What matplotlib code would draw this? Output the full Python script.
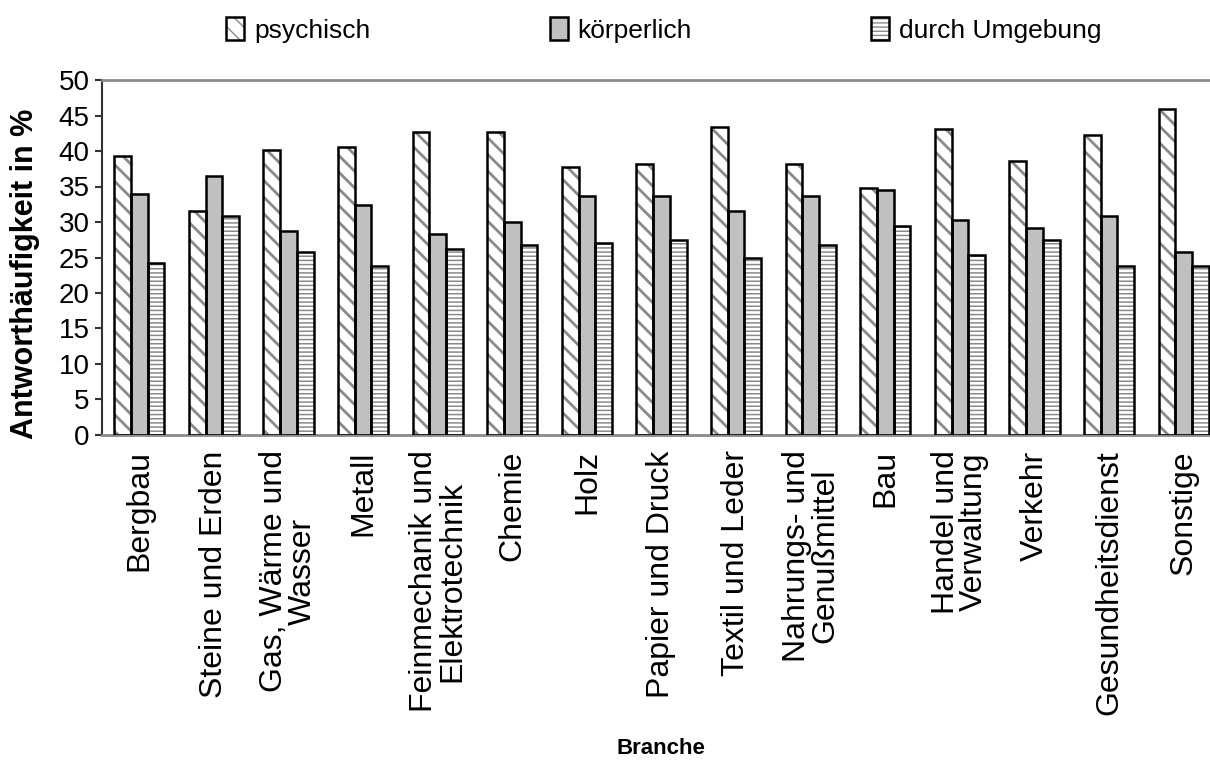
import matplotlib
matplotlib.use("Agg")
import matplotlib.pyplot as plt
import numpy as np
from matplotlib.legend_handler import HandlerTuple

categories = ["Bergbau", "Steine und Erden", "Gas, Wärme und\nWasser", "Metall",
              "Feinmechanik und\nElektrotechnik", "Chemie", "Holz", "Papier und Druck",
              "Textil und Leder", "Nahrungs- und\nGenußmittel", "Bau", "Handel und\nVerwaltung",
              "Verkehr", "Gesundheitsdienst", "Sonstige"]
series_names = ["psychisch", "körperlich", "durch Umgebung"]
psychisch = [39.3, 31.5, 40.2, 40.6, 42.7, 42.7, 37.7, 38.1, 43.4, 38.1, 34.8, 43.1, 38.6, 42.2, 45.9]
koerperlich = [34.0, 36.5, 28.7, 32.4, 28.3, 30.0, 33.6, 33.6, 31.5, 33.6, 34.5, 30.3, 29.1, 30.8, 25.8]
umgebung = [24.2, 30.8, 25.8, 23.8, 26.2, 26.7, 27.0, 27.5, 25.0, 26.7, 29.5, 25.4, 27.5, 23.8, 23.8]
yticks = [0, 5, 10, 15, 20, 25, 30, 35, 40, 45, 50]

plt.rcParams['font.family'] = ['Liberation Sans', 'DejaVu Sans']

W, H = 1210, 773
fig = plt.figure(figsize=(W / 100, H / 100), dpi=100)
ax = fig.add_axes([102 / W, 1 - 435 / H, (1221 - 102) / W, (435 - 80) / H])

x = np.arange(len(categories))
bw = 0.224
data = [psychisch, koerperlich, umgebung]
fills = ['white', '#c0c0c0', 'white']
hatches = ['\\\\', None, '----']
hatch_lw = [2.0, 1.0, 1.1]
handles = []
for i, (vals, fc, h, hl) in enumerate(zip(data, fills, hatches, hatch_lw)):
    pos = x + (i - 1) * bw
    with plt.rc_context({'hatch.linewidth': hl}):
        b1 = ax.bar(pos, vals, bw, color=fc, edgecolor='#8a8a8a', hatch=h, linewidth=0, zorder=2)
        for p in b1:
            if hasattr(p, 'set_hatch_linewidth'):
                p.set_hatch_linewidth(hl)
    b2 = ax.bar(pos, vals, bw, fill=False, edgecolor='black', linewidth=1.8, zorder=3)
    handles.append((b1[0], b2[0]))

ax.set_xlim(-0.5, len(categories) - 0.5)
ax.set_ylim(0, 50)
ax.set_yticks(yticks)
ax.set_yticklabels([str(v) for v in yticks], fontsize=20)
ax.tick_params(axis='y', direction='out', length=5, width=1.5, color='#333333', pad=4)
ax.set_xticks(x)
ax.set_xticklabels(categories, rotation=90, fontsize=23, va='top', ha='center',
                   linespacing=0.93)
ax.tick_params(axis='x', length=0, pad=11)

ax.spines['right'].set_visible(False)
ax.spines['top'].set_color('#8a8a8a')
ax.spines['top'].set_linewidth(2)
ax.spines['bottom'].set_color('#8a8a8a')
ax.spines['bottom'].set_linewidth(2)
ax.spines['left'].set_color('#333333')
ax.spines['left'].set_linewidth(1.5)

fig.text(25 / W, 1 - 274 / H, "Antworthäufigkeit in %", rotation=90, ha='center', va='center',
         fontsize=22, fontweight='bold')
fig.text(661 / W, 1 - 748 / H, "Branche", ha='center', va='center', fontsize=16, fontweight='bold')

fig.legend(handles, series_names, loc='center', bbox_to_anchor=(664 / W, 1 - 30 / H),
           ncol=3, frameon=False, fontsize=19, handlelength=0.68, handleheight=0.95,
           handletextpad=0.38, columnspacing=6.8, borderpad=0.2,
           handler_map={tuple: HandlerTuple(ndivide=1)})

fig.savefig("out.png", dpi=100)
